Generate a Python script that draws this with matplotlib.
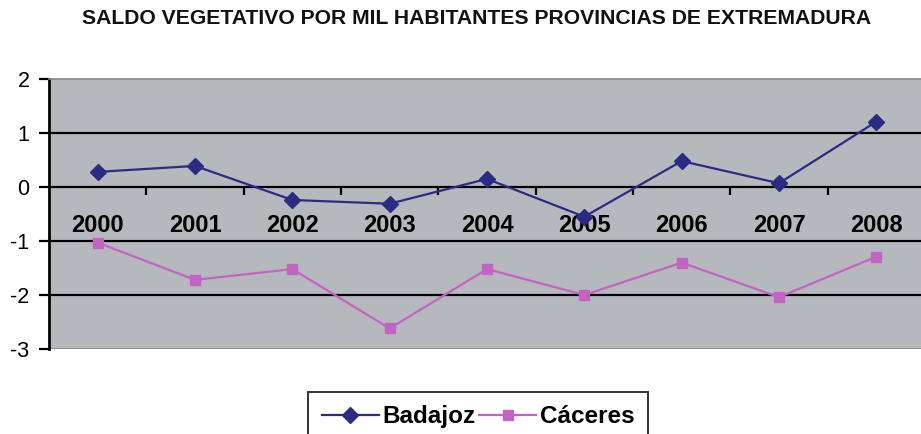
import matplotlib
matplotlib.use('agg')
import matplotlib.pyplot as plt
from matplotlib.lines import Line2D

plt.rcParams['font.family'] = ['Liberation Sans', 'DejaVu Sans']
plt.rcParams['axes.unicode_minus'] = False

years = ['2000', '2001', '2002', '2003', '2004', '2005', '2006', '2007', '2008']
badajoz = [0.28, 0.39, -0.24, -0.31, 0.15, -0.55, 0.48, 0.07, 1.21]
caceres = [-1.03, -1.72, -1.52, -2.62, -1.52, -2.00, -1.40, -2.04, -1.29]
yticks = [-3, -2, -1, 0, 1, 2]

W, H = 921, 434
fig = plt.figure(figsize=(W / 100, H / 100), dpi=100)
fig.patch.set_facecolor('white')

# plot area in pixels: left 48, top 79, bottom 349
ax = fig.add_axes([49 / W, (H - 349) / H, 876 / W, 270 / H])
ax.set_facecolor('#b5b9bd')

x = list(range(len(years)))
for yv in [-2, -1, 1]:
    ax.axhline(yv, color='black', lw=1.6, zorder=1)
ax.axhline(-3, color='#8a8a8a', lw=1.2, zorder=1)

ax.plot(x, badajoz, color='#2b2b84', lw=1.6, marker='D', ms=8,
        mfc='#2b2b84', mec='#2b2b84', zorder=3, label='Badajoz')
ax.plot(x, caceres, color='#c463c4', lw=1.6, marker='s', ms=7.5,
        mfc='#c463c4', mec='#c463c4', zorder=3, label='Cáceres')

ax.set_xlim(-0.5, 8.5)
ax.set_ylim(-3, 2)

# category axis crossing at zero
ax.spines['bottom'].set_position(('data', 0))
ax.spines['bottom'].set_linewidth(1.6)
ax.spines['bottom'].set_zorder(2)
ax.spines['left'].set_linewidth(2)
for s in ['top', 'right']:
    ax.spines[s].set_color('#8a8a8a')
    ax.spines[s].set_linewidth(1.2)

ax.set_xticks(x)
ax.set_xticklabels(years, fontsize=17, fontweight='bold')
ax.tick_params(axis='x', which='major', length=0, pad=19.5)
ax.set_xticks([i + 0.5 for i in range(len(years) - 1)], minor=True)
ax.tick_params(axis='x', which='minor', length=6, width=1.6,
               direction='out', bottom=True)

ax.set_yticks(yticks)
ax.set_yticklabels([str(v) for v in yticks], fontsize=15.5)
ax.tick_params(axis='y', length=7, width=1.6, pad=7)

fig.text(477 / W, 1 - 18 / H,
         'SALDO VEGETATIVO POR MIL HABITANTES PROVINCIAS DE EXTREMADURA',
         ha='center', va='center', fontsize=15.2, fontweight='bold',
         color='#111111')

handles = [
    Line2D([0], [0], color='#2b2b84', lw=1.6, marker='D', ms=8),
    Line2D([0], [0], color='#c463c4', lw=1.6, marker='s', ms=7.5),
]
leg = fig.legend(handles, ['Badajoz', 'Cáceres'], loc='upper center',
                 bbox_to_anchor=(478 / W, 1 - 392 / H), ncol=2,
                 frameon=True, fancybox=False, shadow=False,
                 prop={'weight': 'bold', 'size': 17.5}, handlelength=2.35,
                 columnspacing=0.15, handletextpad=0.15, borderpad=0.55,
                 borderaxespad=0)
leg.get_frame().set_edgecolor('black')
leg.get_frame().set_linewidth(1.4)

fig.savefig('out.png', dpi=100, facecolor='white')
